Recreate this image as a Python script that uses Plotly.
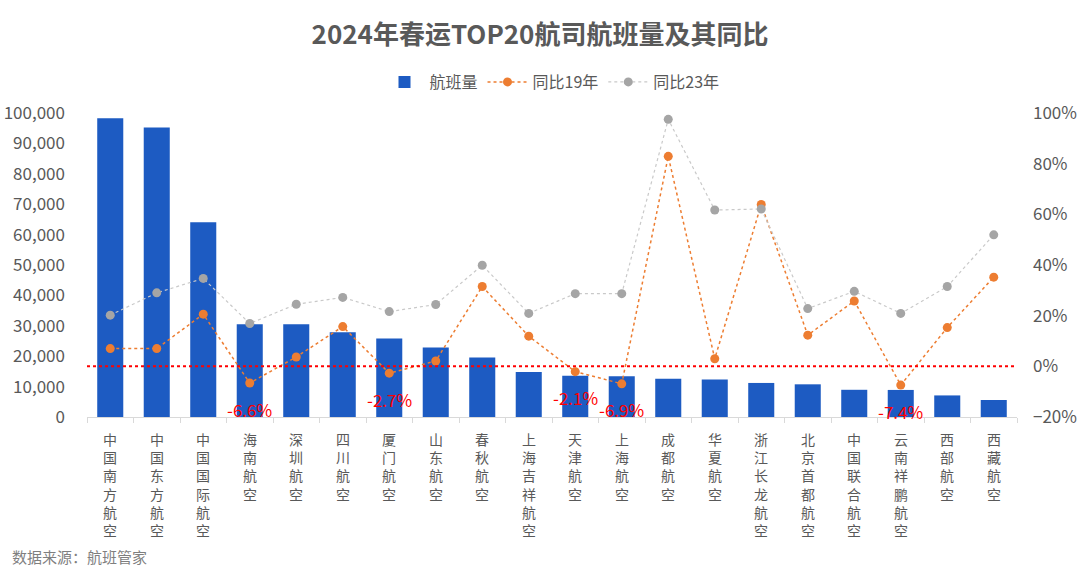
import plotly.graph_objects as go

categories = ["中国南方航空", "中国东方航空", "中国国际航空", "海南航空", "深圳航空", "四川航空",
              "厦门航空", "山东航空", "春秋航空", "上海吉祥航空", "天津航空", "上海航空",
              "成都航空", "华夏航空", "浙江长龙航空", "北京首都航空", "中国联合航空",
              "云南祥鹏航空", "西部航空", "西藏航空"]
flights = [98300, 95200, 64100, 30500, 30500, 27900, 25800, 22900, 19600, 14800,
           13600, 13400, 12600, 12300, 11200, 10750, 8950, 8900, 7100, 5600]
yoy19 = [7.0, 7.0, 20.6, -6.6, 3.7, 15.7, -2.7, 2.1, 31.5, 11.9,
         -2.1, -6.9, 82.9, 3.0, 63.9, 12.3, 25.8, -7.4, 15.3, 35.2]
yoy23 = [20.2, 29.0, 34.7, 16.9, 24.5, 27.2, 21.6, 24.4, 39.9, 20.9,
         28.7, 28.7, 97.5, 61.7, 62.1, 22.8, 29.6, 20.9, 31.5, 51.9]

FONT = "Noto Sans CJK SC"
GREY = "#595959"
BLUE = "#1D5BC2"
ORANGE = "#ED7D31"
LGREY = "#A5A5A5"

fig = go.Figure()
fig.add_trace(go.Bar(x=categories, y=flights, name="航班量", marker_color=BLUE,
                     marker_line_width=0))
fig.add_trace(go.Scatter(x=categories, y=yoy19, name="同比19年", yaxis="y2",
                         mode="lines+markers",
                         line=dict(color=ORANGE, width=1.5, dash="dot"),
                         marker=dict(color=ORANGE, size=9)))
fig.add_trace(go.Scatter(x=categories, y=yoy23, name="同比23年", yaxis="y2",
                         mode="lines+markers",
                         line=dict(color="#C9C9C9", width=1.2, dash="dot"),
                         marker=dict(color=LGREY, size=9)))

# red labels for negative 19-year change
for c, v in zip(categories, yoy19):
    if v < 0:
        fig.add_annotation(x=c, y=v, xref="x", yref="y2", text=f"{v:.1f}%",
                           showarrow=False, yshift=-26,
                           font=dict(family=FONT, size=17, color="#FF0000"))

# vertical category labels (stacked characters, one text per category)
for c in categories:
    fig.add_annotation(x=c, y=0, xref="x", yref="paper", text="<br>".join(c),
                       showarrow=False, yanchor="top", yshift=-10, align="center",
                       font=dict(family=FONT, size=14, color=GREY))

# zero reference line on right axis
fig.add_shape(type="line", xref="paper", yref="y2", x0=0, x1=1, y0=0, y1=0,
              line=dict(color="#FF0000", width=2, dash="dot"))

fig.add_annotation(text="数据来源：航班管家", xref="paper", yref="paper",
                   x=-0.083, y=-0.458, xanchor="left", yanchor="middle", showarrow=False,
                   font=dict(family=FONT, size=15, color="#7F7F7F"))

fig.update_layout(
    width=1080, height=575,
    margin=dict(l=87, r=63, t=113, b=158, autoexpand=False),
    paper_bgcolor="white", plot_bgcolor="white",
    title=dict(text="<b>2024年春运TOP20航司航班量及其同比</b>", x=0.5, xanchor="center",
               y=1 - 35 / 575, yanchor="middle",
               font=dict(family=FONT, size=26, color=GREY)),
    font=dict(family=FONT, color=GREY, size=16),
    bargap=0.44,
    showlegend=True,
    legend=dict(orientation="h", x=0.5, xanchor="center", y=1.102, yanchor="middle",
                font=dict(family=FONT, size=16, color=GREY), itemwidth=40,
                traceorder="normal"),
    xaxis=dict(showticklabels=False, showline=True, linecolor="#D9D9D9", linewidth=1,
               ticks="outside", tickson="boundaries", ticklen=5, tickcolor="#D9D9D9",
               showgrid=False, range=[-0.5, 19.5], automargin=False),
    yaxis=dict(range=[0, 100000], dtick=10000, tickformat=",", showgrid=False,
               zeroline=False, showline=False, automargin=False,
               tickfont=dict(family=FONT, size=17, color=GREY), ticklabelstandoff=21),
    yaxis2=dict(range=[-20, 100], dtick=20, ticksuffix="%", overlaying="y", side="right",
                showgrid=False, zeroline=False, showline=False, automargin=False,
                tickfont=dict(family=FONT, size=17, color=GREY), ticklabelstandoff=15),
)

fig.write_html("out.html", config={"displayModeBar": False},
               post_script="document.body.style.margin='0px';")
